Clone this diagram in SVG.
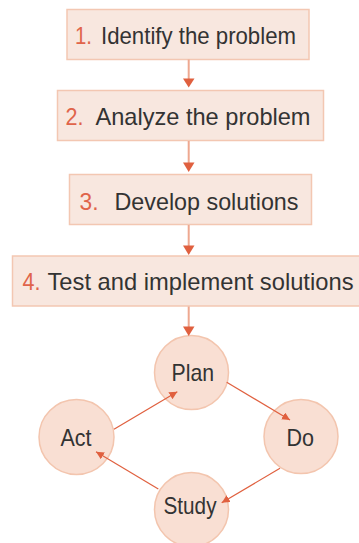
<svg xmlns="http://www.w3.org/2000/svg" width="359" height="543" viewBox="0 0 359 543">
<style>
.box{fill:#f8e7df;stroke:#f3c7b2;stroke-width:1.5}
.circ{fill:#f9dfd3;stroke:#f3c5ae;stroke-width:1.5}
.num{font-family:"Liberation Sans",Arial,sans-serif;font-size:24px;fill:#e0644a}
.lbl{font-family:"Liberation Sans",Arial,sans-serif;font-size:24px;fill:#333333}
.vline{stroke:#eea890;stroke-width:2;fill:none}
.cline{stroke:#e0603f;stroke-width:1.2;fill:none}
.head{fill:#e0603f}
</style>
<defs>
<marker id="ah" markerUnits="userSpaceOnUse" markerWidth="10" markerHeight="8" refX="8" refY="4" orient="auto">
<path d="M0,0 L8,4 L0,8 Z" fill="#e0603f"/>
</marker>
</defs>
<g id="step1">
<rect class="box" x="67" y="9.5" width="242" height="50"/>
<text class="num" x="75" y="43.5" textLength="17" lengthAdjust="spacingAndGlyphs">1.</text>
<text class="lbl" x="101" y="43.5" textLength="195" lengthAdjust="spacingAndGlyphs">Identify the problem</text>
</g>
<g id="step2">
<rect class="box" x="57.5" y="90.5" width="266" height="50"/>
<text class="num" x="65.5" y="125" textLength="18" lengthAdjust="spacingAndGlyphs">2.</text>
<text class="lbl" x="95.5" y="125" textLength="215" lengthAdjust="spacingAndGlyphs">Analyze the problem</text>
</g>
<g id="step3">
<rect class="box" x="69.5" y="174.5" width="242" height="50"/>
<text class="num" x="79.5" y="210" textLength="19" lengthAdjust="spacingAndGlyphs">3.</text>
<text class="lbl" x="114.5" y="210" textLength="184" lengthAdjust="spacingAndGlyphs">Develop solutions</text>
</g>
<g id="step4">
<rect class="box" x="12.5" y="256" width="352" height="50"/>
<text class="num" x="22.5" y="290" textLength="18" lengthAdjust="spacingAndGlyphs">4.</text>
<text class="lbl" x="47.5" y="290" textLength="306" lengthAdjust="spacingAndGlyphs">Test and implement solutions</text>
</g>
<g id="plan">
<circle class="circ" cx="191.5" cy="372.5" r="37"/>
<text class="lbl" x="171.5" y="380.5" textLength="42.5" lengthAdjust="spacingAndGlyphs">Plan</text>
</g>
<g id="do">
<circle class="circ" cx="301" cy="436.5" r="37"/>
<text class="lbl" x="286.5" y="445.5" textLength="27.5" lengthAdjust="spacingAndGlyphs">Do</text>
</g>
<g id="study">
<circle class="circ" cx="191.5" cy="509.5" r="37"/>
<text class="lbl" x="163.5" y="513.5" textLength="53" lengthAdjust="spacingAndGlyphs">Study</text>
</g>
<g id="act">
<circle class="circ" cx="76.5" cy="437" r="37.5"/>
<text class="lbl" x="60.5" y="445.5" textLength="31" lengthAdjust="spacingAndGlyphs">Act</text>
</g>
<g id="connectors">
<line class="vline" x1="188.7" y1="59.5" x2="188.7" y2="79"/>
<path class="head" d="M183,78.5 L194.5,78.5 L188.7,87.5 Z"/>
<line class="vline" x1="188.7" y1="141" x2="188.7" y2="163"/>
<path class="head" d="M183,162.5 L194.5,162.5 L188.7,172 Z"/>
<line class="vline" x1="188.7" y1="225" x2="188.7" y2="246"/>
<path class="head" d="M183,245.5 L194.5,245.5 L188.7,255 Z"/>
<line class="vline" x1="188.7" y1="306.5" x2="188.7" y2="327"/>
<path class="head" d="M183,326.5 L194.5,326.5 L188.7,336 Z"/>
<line class="cline" x1="226.7" y1="382.3" x2="290" y2="420" marker-end="url(#ah)"/>
<line class="cline" x1="280" y1="468.3" x2="221.7" y2="502.7" marker-end="url(#ah)"/>
<line class="cline" x1="158.3" y1="489" x2="96" y2="451.7" marker-end="url(#ah)"/>
<line class="cline" x1="114" y1="429.3" x2="177.3" y2="391.7" marker-end="url(#ah)"/>
</g>
</svg>
